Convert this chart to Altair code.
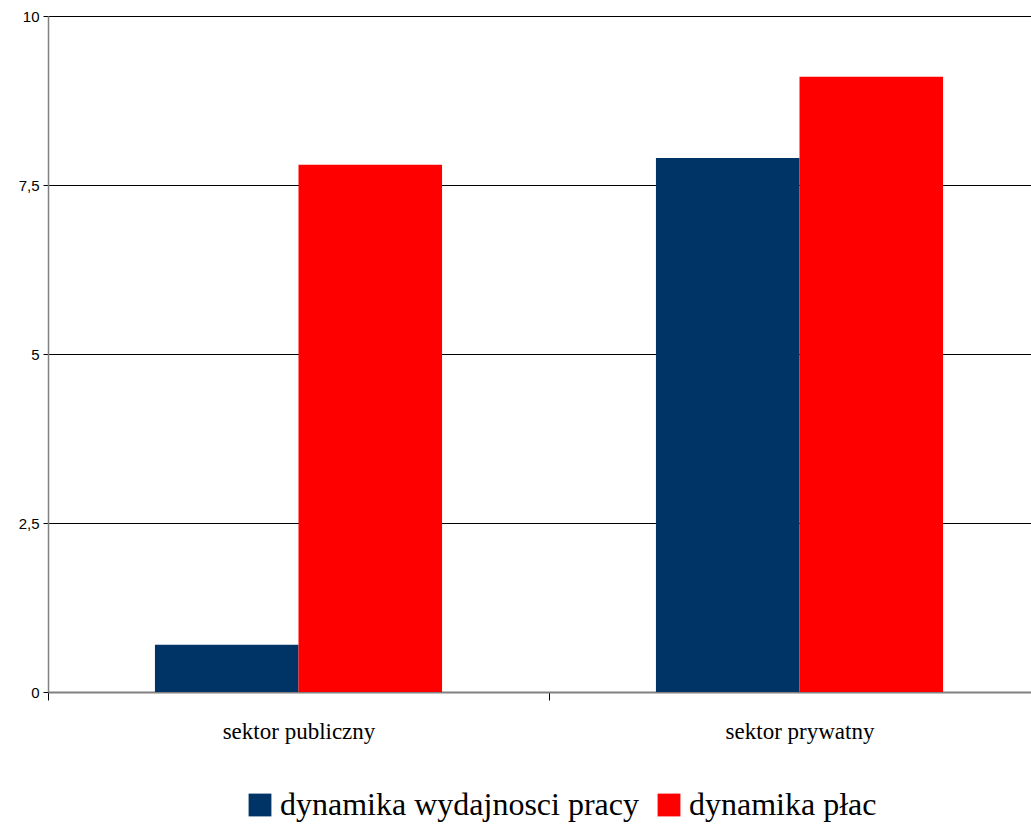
import altair as alt
import pandas as pd

# Sector categories, series names and values
sectors = ["sektor publiczny", "sektor prywatny"]
series = ["dynamika wydajnosci pracy", "dynamika płac"]
productivity = [0.7, 7.9]
wages = [7.8, 9.1]
colors = ["#003366", "#ff0000"]

SERIF = "Liberation Serif"
SANS = "Liberation Sans"

rows = []
for i, s in enumerate(sectors):
    rows.append({"sektor": s, "seria": series[0], "wartosc": productivity[i]})
    rows.append({"sektor": s, "seria": series[1], "wartosc": wages[i]})
df = pd.DataFrame(rows)

bars = alt.Chart(df).mark_bar().encode(
    x=alt.X(
        "sektor:N",
        sort=sectors,
        title=None,
        # category bands run a little past the right edge of the view
        scale=alt.Scale(paddingInner=0, paddingOuter=0, range=[0, 1002]),
        axis=alt.Axis(
            labelAngle=0,
            labelFont=SERIF,
            labelFontSize=23,
            labelColor="black",
            labelPadding=20,
            tickBand="extent",
            tickColor="black",
            tickSize=8,
            domainColor="#808080",
            domainWidth=2,
            grid=False,
        ),
    ),
    xOffset=alt.XOffset(
        "seria:N",
        sort=series,
        scale=alt.Scale(paddingInner=0, paddingOuter=0.745),
    ),
    y=alt.Y(
        "wartosc:Q",
        title=None,
        scale=alt.Scale(domain=[0, 10]),
        axis=alt.Axis(
            values=[0, 2.5, 5, 7.5, 10],
            labelExpr="replace(toString(datum.value), '.', ',')",
            labelFont=SANS,
            labelFontSize=15,
            labelColor="black",
            labelPadding=4,
            tickColor="black",
            tickSize=5,
            domainColor="#808080",
            domainWidth=1.5,
            gridColor="black",
            gridWidth=1,
        ),
    ),
    color=alt.Color(
        "seria:N",
        sort=series,
        scale=alt.Scale(domain=series, range=colors),
        legend=alt.Legend(
            title=None,
            orient="none",
            legendX=196,
            legendY=773,
            direction="horizontal",
            columns=2,
            symbolType="square",
            symbolSize=520,
            symbolStrokeWidth=0,
            symbolOpacity=1,
            labelFont=SERIF,
            labelFontSize=32,
            labelColor="black",
            labelOffset=4,
            labelLimit=600,
            columnPadding=14,
        ),
    ),
)

chart = bars.properties(
    width=983,
    height=676,
    autosize=alt.AutoSizeParams(type="none"),
    padding={"left": 48, "top": 16, "right": 0, "bottom": 132},
).configure_view(stroke=None).configure_legend(
    labelFont=SERIF
).configure(background="white")

chart.save("out.html", embed_options={"renderer": "svg", "actions": False})
